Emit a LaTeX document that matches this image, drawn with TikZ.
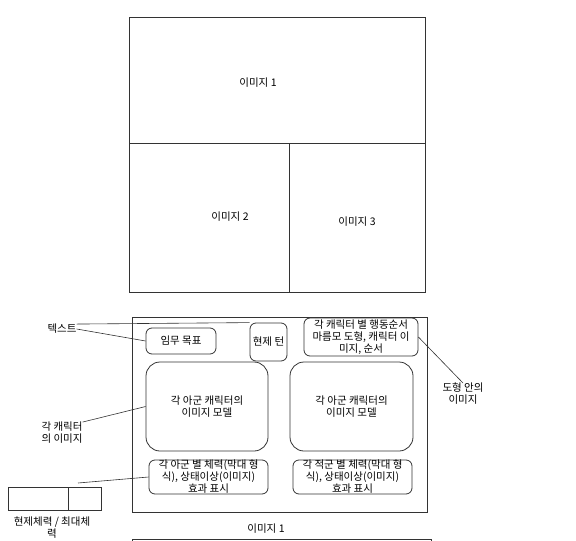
\documentclass[tikz,border=0pt]{standalone}
\usepackage{fontspec}
\setmainfont{Noto Sans CJK KR}
\usetikzlibrary{positioning}

\tikzset{
  frame/.style={draw=black!80, line width=0.8pt, inner sep=0pt},
  roundbox/.style={draw=black!80, line width=0.8pt, rounded corners=6pt, inner sep=0pt, align=center},
  bigbox/.style={roundbox, rounded corners=14pt},
  note/.style={inner sep=0pt, align=center},
  pointer/.style={draw=black!80, line width=0.6pt}
}

\begin{document}
\begin{tikzpicture}[x=1pt, y=-1pt, font=\fontsize{10.5}{12}\selectfont]
                \useasboundingbox (0,0) rectangle (576,541);
                % upper layout
                \node [frame, minimum width=296pt, minimum height=126pt] (img1) at (277,80) {};
                \node [frame, minimum width=160pt, minimum height=149pt] (img2) at (209,217.5) {};
                \node [frame, minimum width=136pt, minimum height=149pt] (img3) at (357,217.5) {};
                \node [note] (t1) at (258,83) {이미지 1};
                \node [note] (t2) at (230,217) {이미지 2};
                \node [note] (t3) at (357,222) {이미지 3};
                % lower layout
                \node [frame, minimum width=295pt, minimum height=195pt] (screen) at (279.5,414.5) {};
                \node [note] (screenlabel) at (266,529) {이미지 1};
                \draw [black!80, line width=0.8pt] (132,542) |- (431,539) -- (431,542);
                \node [roundbox, minimum width=70pt, minimum height=26pt] (goal) at (181,341) {임무 목표};
                \node [roundbox, minimum width=37pt, minimum height=38pt] (turn) at (268.5,342) {현제 턴};
                \node [roundbox, minimum width=114pt, minimum height=38pt] (order) at (361,337)
                      {각 캐릭터 별 행동순서\\마름모 도형, 캐릭터 이\\미지, 순서};
                \node [bigbox, minimum width=122pt, minimum height=89pt] (allyL) at (207,406.5)
                      {각 아군 캐릭터의\\이미지 모델};
                \node [bigbox, minimum width=123pt, minimum height=89pt] (allyR) at (351.5,406.5)
                      {각 아군 캐릭터의\\이미지 모델};
                \node [roundbox, minimum width=119pt, minimum height=34pt] (hpL) at (208.5,477)
                      {각 아군 별 체력(막대 형\\식), 상태이상(이미지)\\효과 표시};
                \node [roundbox, minimum width=119pt, minimum height=34pt] (hpR) at (352.5,477)
                      {각 적군 별 체력(막대 형\\식), 상태이상(이미지)\\효과 표시};
                % health bar
                \node [frame, minimum width=60pt, minimum height=23pt] (hpcur) at (38,498.5) {};
                \node [frame, minimum width=33pt, minimum height=23pt] (hpmax) at (84.5,498.5) {};
                \node [note] (hplabel) at (52,528) {현제체력 / 최대체\\력};
                % notes
                \node [note] (txtnote) at (62,329) {텍스트};
                \node [note] (charnote) at (62,433) {각 캐릭터\\의 이미지};
                \node [note] (shapenote) at (463,394) {도형 안의\\이미지};
                \coordinate (hpend) at (78,483);
                \draw [pointer] (txtnote.north east) -- (turn.north west);
                \draw [pointer] (txtnote.east) -- (goal.west);
                \draw [pointer] (charnote.north east) -- (allyL.west);
                \draw [pointer] (hpend) -- (hpL.west);
                \draw [pointer] (order.east) -- (shapenote.north);
            \end{tikzpicture}
\end{document}
